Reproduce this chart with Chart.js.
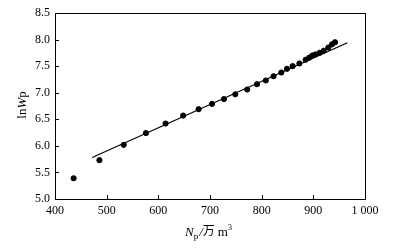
<!DOCTYPE html>
<html>
<head>
<meta charset="utf-8">
<script src="https://cdn.jsdelivr.net/npm/chart.js@4/dist/chart.umd.min.js"></script>
<style>
html, body { margin: 0; padding: 0; background: #fff; }
#wrap { width: 413px; height: 249px; }
</style>
</head>
<body>
<div id="wrap"><canvas id="grafico" width="413" height="249"></canvas></div>
<script>
// dados
const np = [436, 486, 533, 576, 614, 648, 678, 704, 727, 749, 772, 791, 808, 823, 838, 849, 860, 873, 885, 892, 898, 904, 912, 920, 929, 936, 942];
const lnWp = [5.39, 5.73, 6.02, 6.24, 6.42, 6.57, 6.69, 6.79, 6.88, 6.97, 7.06, 7.16, 7.23, 7.31, 7.38, 7.45, 7.50, 7.55, 7.62, 7.66, 7.70, 7.72, 7.75, 7.79, 7.85, 7.91, 7.95];
const retaX = [472, 966];
const retaY = [5.78, 7.94];

const serif = '"Liberation Serif", "Times New Roman", serif';

let pontos = [];
for (let i = 0; i < np.length; i++) pontos.push({ x: np[i], y: lnWp[i] });
let reta = [];
for (let i = 0; i < retaX.length; i++) reta.push({ x: retaX[i], y: retaY[i] });

// moldura, ticks para dentro e titulos dos eixos
const moldura = {
    id: 'moldura',
    afterDraw(chart) {
        const ctx = chart.ctx;
        const a = chart.chartArea;
        const sx = chart.scales.x, sy = chart.scales.y;
        ctx.save();
        ctx.strokeStyle = '#000';
        ctx.lineWidth = 1;
        ctx.strokeRect(Math.round(a.left) + 0.5, Math.round(a.top) + 0.5, Math.round(a.right - a.left), Math.round(a.bottom - a.top));
        ctx.beginPath();
        sx.ticks.forEach(t => {
            const px = Math.round(sx.getPixelForValue(t.value)) + 0.5;
            ctx.moveTo(px, a.bottom); ctx.lineTo(px, a.bottom - 4);
        });
        sy.ticks.forEach(t => {
            const py = Math.round(sy.getPixelForValue(t.value)) + 0.5;
            ctx.moveTo(a.left, py); ctx.lineTo(a.left + 4, py);
        });
        ctx.stroke();

        // titulo x: Np/万 m3
        ctx.fillStyle = '#000';
        ctx.textBaseline = 'alphabetic';
        ctx.textAlign = 'left';
        let x = 185, y = 236;
        ctx.font = 'italic 13px ' + serif;
        ctx.fillText('N', x, y); x += ctx.measureText('N').width;
        ctx.font = '9px ' + serif;
        ctx.fillText('p', x, y + 3); x += ctx.measureText('p').width + 1;
        ctx.font = 'italic 13px ' + serif;
        ctx.fillText('/', x, y); x += ctx.measureText('/').width;
        ctx.font = '12px "Noto Sans CJK SC"';
        ctx.fillText('万', x, y - 1); x += ctx.measureText('万').width + 3;
        ctx.font = '13px ' + serif;
        ctx.fillText('m', x, y); x += ctx.measureText('m').width;
        ctx.font = '8px ' + serif;
        ctx.fillText('3', x, y - 6);

        // titulo y: lnWp
        ctx.translate(26, 105);
        ctx.rotate(-Math.PI / 2);
        ctx.font = '13px ' + serif;
        let w1 = ctx.measureText('ln').width;
        ctx.font = 'italic 13px ' + serif;
        let w2 = ctx.measureText('W').width;
        ctx.font = '13px ' + serif;
        let w3 = ctx.measureText('p').width;
        let xx = -(w1 + w2 + w3) / 2;
        ctx.fillText('ln', xx, 0); xx += w1;
        ctx.font = 'italic 13px ' + serif;
        ctx.fillText('W', xx, 0); xx += w2;
        ctx.font = '13px ' + serif;
        ctx.fillText('p', xx, 0);
        ctx.restore();
    }
};

const config = {
    type: 'scatter',
    data: {
        datasets: [{
            label: 'lnWp',
            data: pontos,
            backgroundColor: '#000',
            borderColor: '#000',
            pointRadius: 2.6,
            pointHoverRadius: 2.6
        }, {
            label: 'reta',
            type: 'line',
            data: reta,
            showLine: true,
            borderColor: '#000',
            borderWidth: 1.2,
            pointRadius: 0,
            fill: false
        }]
    },
    options: {
        responsive: false,
        animation: false,
        events: [],
        layout: { padding: { top: 13, right: 48, left: 0, bottom: 0 } },
        plugins: { legend: { display: false }, tooltip: { enabled: false } },
        scales: {
            x: {
                type: 'linear',
                min: 400, max: 1000,
                afterFit: s => { s.height = 50; },
                grid: { display: false, drawTicks: false },
                border: { display: false },
                ticks: {
                    stepSize: 100,
                    padding: 5,
                    color: '#000',
                    font: { family: serif, size: 12 },
                    callback: v => v == 1000 ? '1 000' : String(v)
                }
            },
            y: {
                type: 'linear',
                min: 5, max: 8.5,
                afterFit: s => { s.width = 55; },
                grid: { display: false, drawTicks: false },
                border: { display: false },
                ticks: {
                    stepSize: 0.5,
                    padding: 5,
                    color: '#000',
                    font: { family: serif, size: 12 },
                    callback: v => v.toFixed(1)
                }
            }
        }
    },
    plugins: [moldura]
};

var ctx = document.getElementById('grafico').getContext('2d');
let myChart = new Chart(ctx, config);
</script>
</body>
</html>
